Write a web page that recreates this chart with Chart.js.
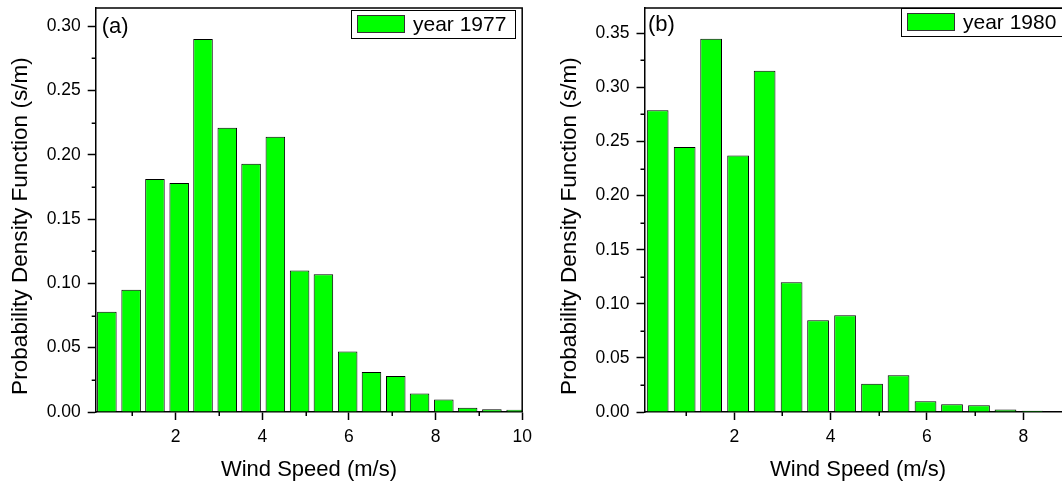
<!DOCTYPE html>
<html><head><meta charset="utf-8">
<script src="https://cdn.jsdelivr.net/npm/chart.js@4.4.1/dist/chart.umd.min.js"></script>
<style>
html,body{margin:0;padding:0;overflow:hidden;background:#fff;width:1062px;height:486px;}
canvas{position:absolute;top:0;}
#ca{left:0}
#cb{left:540px}
</style></head><body>
<canvas id="ca" width="540" height="486"></canvas>
<canvas id="cb" width="540" height="486"></canvas>
<script>
// ---- data ----
const windSpeedBins = [0.41, 0.97, 1.52, 2.08, 2.63, 3.19, 3.74, 4.30, 4.86, 5.41, 5.97, 6.52, 7.08, 7.63, 8.19, 8.74, 9.30, 9.86];
const pdf1977 = [0.078, 0.095, 0.181, 0.178, 0.290, 0.221, 0.193, 0.214, 0.110, 0.107, 0.047, 0.031, 0.028, 0.0143, 0.0097, 0.0034, 0.0021, 0.0018];
const pdf1980 = [0.279, 0.245, 0.345, 0.237, 0.3155, 0.120, 0.0847, 0.0894, 0.0262, 0.0339, 0.0099, 0.0071, 0.0062, 0.0022, 0.0012];
const xTicks1977 = [2, 4, 6, 8, 10];
const xTicks1980 = [2, 4, 6, 8];
const xMinorTicks = [1, 3, 5, 7, 9];
const yTicks1977 = [0, 0.05, 0.10, 0.15, 0.20, 0.25, 0.30];
const yMinor1977 = [0.025, 0.075, 0.125, 0.175, 0.225, 0.275];
const yTicks1980 = [0, 0.05, 0.10, 0.15, 0.20, 0.25, 0.30, 0.35];
const yMinor1980 = [0.025, 0.075, 0.125, 0.175, 0.225, 0.275, 0.325];
const xTitle = 'Wind Speed (m/s)';
const yTitle = 'Probability Density Function (s/m)';

const FONT = "'Liberation Sans', Arial, sans-serif";
Chart.defaults.font.family = FONT;
Chart.defaults.color = '#000';

const panelDecor = {
  id: 'panelDecor',
  afterDraw(chart, args, o) {
    const {ctx, chartArea: a, scales: {x, y}} = chart;
    ctx.save();
    ctx.strokeStyle = '#000';
    ctx.lineWidth = 1.5;
    ctx.beginPath();
    ctx.moveTo(a.left, a.top); ctx.lineTo(a.right, a.top); ctx.lineTo(a.right, a.bottom);
    ctx.stroke();
    // minor ticks
    ctx.beginPath();
    o.xMinor.forEach(v => {
      const px = Math.round(x.getPixelForValue(v)) + 0.25;
      if (px >= a.left && px <= a.right) { ctx.moveTo(px, a.bottom); ctx.lineTo(px, a.bottom + 4); }
    });
    o.yMinor.forEach(v => {
      const py = Math.round(y.getPixelForValue(v)) + 0.25;
      ctx.moveTo(a.left, py); ctx.lineTo(a.left - 4, py);
    });
    ctx.stroke();
    // panel label
    ctx.fillStyle = '#000';
    ctx.font = '22px ' + FONT;
    ctx.textAlign = 'left';
    ctx.textBaseline = 'alphabetic';
    ctx.fillText(o.panel, a.left + o.panelDx, o.panelBaseline);
    // y title
    ctx.save();
    ctx.font = '22.6px ' + FONT;
    ctx.translate(a.left - o.yTitleDx, o.yTitleCenter);
    ctx.rotate(-Math.PI / 2);
    ctx.textAlign = 'center';
    ctx.fillText(o.yTitle, 0, 0);
    ctx.restore();
    // legend
    const ds = chart.data.datasets[0];
    ctx.font = '21px ' + FONT;
    const tw = ctx.measureText(ds.label).width;
    const w = 6 + 48 + 8 + tw + 9, h = 28;
    const bx = Math.round(a.right - o.legendInset - w), by = Math.round(o.legendTop);
    ctx.fillStyle = '#fff';
    ctx.fillRect(bx, by, w, h);
    ctx.lineWidth = 1;
    ctx.strokeStyle = '#000';
    ctx.strokeRect(bx + 0.5, by + 0.5, Math.round(w), h);
    ctx.fillStyle = ds.backgroundColor;
    ctx.fillRect(bx + 6, by + 5, 48, 18);
    ctx.strokeStyle = '#333';
    ctx.strokeRect(bx + 6.5, by + 5.5, 47, 17);
    ctx.fillStyle = '#000';
    ctx.textAlign = 'left';
    ctx.fillText(ds.label, bx + 62, by + 20.5);
    ctx.restore();
  }
};

function makeChart(id, cfg) {
  return new Chart(document.getElementById(id), {
    type: 'bar',
    plugins: [panelDecor],
    data: {
      datasets: [{
        label: cfg.label,
        data: cfg.values.map((v, i) => ({x: windSpeedBins[i], y: v})),
        backgroundColor: '#00FF00',
        borderColor: '#000',
        borderWidth: 1,
        barPercentage: 0.82,
        categoryPercentage: 1,
        clip: 0
      }]
    },
    options: {
      responsive: false,
      animation: false,
      devicePixelRatio: 1,
      layout: {padding: {left: 0, top: 8, right: cfg.padRight, bottom: 0}},
      plugins: {
        legend: {display: false},
        tooltip: {enabled: false},
        panelDecor: {
          xMinor: xMinorTicks, yMinor: cfg.yMinor,
          panel: cfg.panel, panelDx: cfg.panelDx, panelBaseline: cfg.panelBaseline,
          yTitle: yTitle, yTitleDx: 69, yTitleCenter: 226,
          legendInset: cfg.legendInset, legendTop: cfg.legendTop
        }
      },
      scales: {
        x: {
          type: 'linear', min: cfg.xMin, max: cfg.xMax, offset: false,
          grid: {offset: false, drawOnChartArea: false, drawTicks: true, tickLength: 8, tickWidth: 1.5, tickColor: '#000', color: '#000'},
          border: {display: true, color: '#000', width: 1.5},
          ticks: {autoSkip: false, maxRotation: 0, padding: 7, font: {size: 17.5}, color: '#000', callback: v => String(v)},
          afterBuildTicks: s => { s.ticks = cfg.xTicks.map(v => ({value: v})); },
          afterFit: s => { s.height = 74; s.paddingLeft = 0; s.paddingRight = 0; },
          title: {display: true, text: xTitle, font: {size: 22}, color: '#000', padding: {top: 0, bottom: 3}}
        },
        y: {
          type: 'linear', min: 0, max: cfg.yMax,
          grid: {drawOnChartArea: false, drawTicks: true, tickLength: 8, tickWidth: 1.5, tickColor: '#000', color: '#000'},
          border: {display: true, color: '#000', width: 1.5},
          ticks: {autoSkip: false, padding: 7, font: {size: 17.5}, color: '#000', callback: v => Number(v).toFixed(2)},
          afterBuildTicks: s => { s.ticks = cfg.yTicks.map(v => ({value: v})); },
          afterFit: s => { s.width = cfg.yWidth; s.paddingTop = 0; s.paddingBottom = 0; }
        }
      }
    }
  });
}

makeChart('ca', {
  label: 'year 1977', values: pdf1977, xMin: 0.152, xMax: 10, xTicks: xTicks1977,
  yMax: 0.314, yTicks: yTicks1977, yMinor: yMinor1977, yWidth: 95.7, padRight: 17.8,
  panel: '(a)', panelDx: 6, panelBaseline: 32.5, legendInset: 7, legendTop: 10
});
makeChart('cb', {
  label: 'year 1980', values: pdf1980, xMin: 0.137, xMax: 9.0, xTicks: xTicks1980,
  yMax: 0.3734, yTicks: yTicks1980, yMinor: yMinor1980, yWidth: 104.5, padRight: 8.5,
  panel: '(b)', panelDx: 3.5, panelBaseline: 30.5, legendInset: 6, legendTop: 7.5
});
</script>
</body></html>
